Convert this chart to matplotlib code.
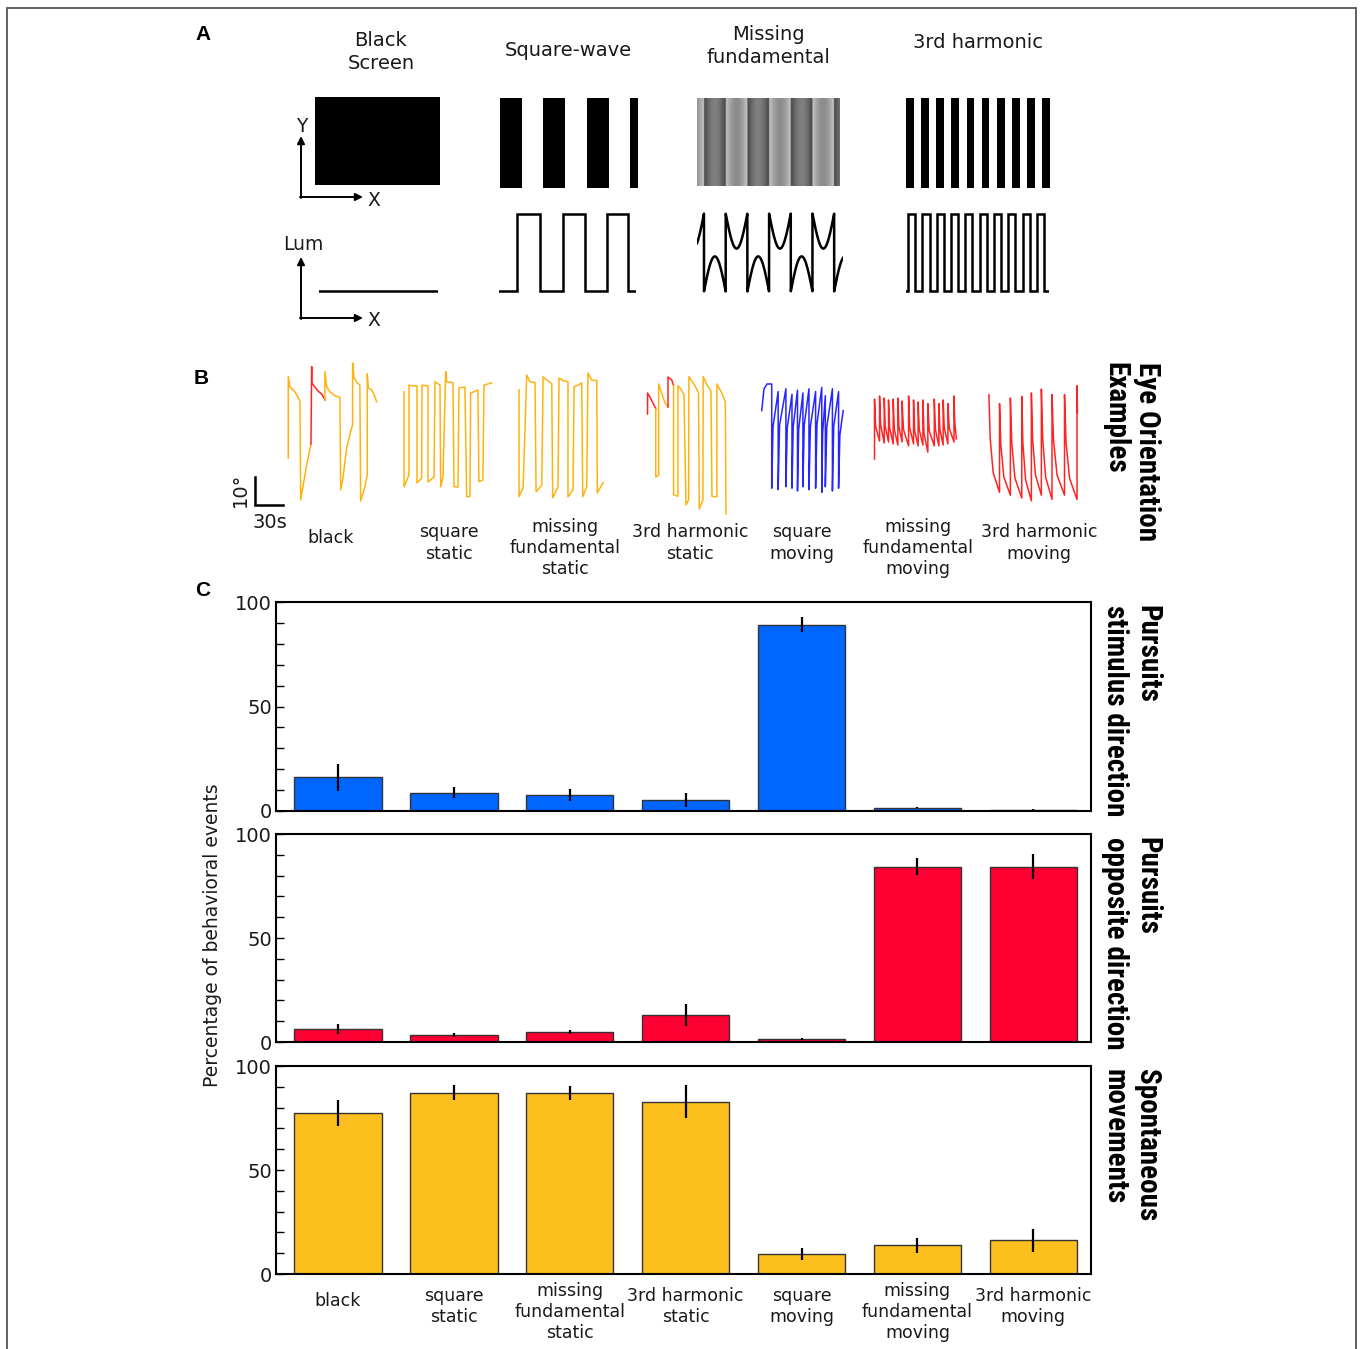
"""Eye-movement figure: stimuli (A), eye orientation examples (B), event percentages (C)."""

import numpy as np
import matplotlib

matplotlib.use("Agg")
import matplotlib.pyplot as plt
from matplotlib import font_manager
from matplotlib.patches import Rectangle
from matplotlib.transforms import blended_transform_factory

W, H = 1360, 1349

# ---------------- data ----------------
CONDITIONS = [
    "black",
    "square\nstatic",
    "missing\nfundamental\nstatic",
    "3rd harmonic\nstatic",
    "square\nmoving",
    "missing\nfundamental\nmoving",
    "3rd harmonic\nmoving",
]

# percentage of behavioral events (mean, error)
PURSUIT_STIM = [16.1, 8.8, 7.5, 5.3, 89.1, 1.6, 0.6]
PURSUIT_STIM_ERR = [6.4, 2.8, 2.8, 3.3, 3.6, 0.3, 0.2]
PURSUIT_OPP = [6.3, 3.4, 4.8, 12.8, 1.6, 84.3, 84.3]
PURSUIT_OPP_ERR = [2.4, 1.0, 1.0, 5.3, 0.5, 4.0, 6.0]
SPONT = [77.3, 87.2, 86.9, 82.9, 9.6, 13.8, 16.2]
SPONT_ERR = [6.2, 3.6, 3.4, 7.8, 2.8, 3.6, 5.6]

# stimulus profiles (panel A)
SQUARE_IMG_LEVELS = [0, 1, 0, 1, 0, 1, 0]          # per half cycle, 0 = black
THIRD_IMG_LEVELS = [0, 1] * 9 + [0]
SQUARE_LUM_WIDTHS = [0.83, 1.05, 1.06, 1.0, 1.01, 0.97, 0.36]
SQUARE_LUM_LEVELS = [0, 1, 0, 1, 0, 1, 0]
THIRD_LUM_WIDTHS = [0.3] + [1.0] * 19 + [0.7]
THIRD_LUM_LEVELS = [0] + [1, 0] * 10
MF_FUND_AMP = 0.9                 # fundamental removed from the square wave
MF_PHASE = (2.13, 23.27)          # radians covered by the luminance plot
MF_IMG_PHASE = (2.13, 22.83)

# eye orientation traces (panel B): (event kind, time s, angle deg)
TRACE_BLACK = [
    ("spont", [0.3, 0.3, 2.1, 5.7, 8.2, 12.8, 13.6, 20.0, 24.6],
     [16.7, 45.8, 42.1, 41.1, 40.0, 37.1, 1.8, 14.3, 21.8]),
    ("opp", [24.6, 25.4, 25.4, 28.9, 32.1, 36.1, 39.6],
     [21.8, 49.4, 43.6, 42.1, 40.7, 39.6, 37.5]),
    ("spont", [39.6, 39.6, 41.4, 44.9, 50.3, 55.6, 56.4, 58.9, 62.8, 67.1, 69.2, 69.2,
               70.6, 74.2, 77.0, 77.8, 82.4, 84.9, 84.9, 86.0, 89.6, 92.0, 94.9],
     [37.5, 47.6, 42.2, 40.4, 39.0, 38.4, 5.4, 9.6, 20.3, 26.2, 28.6, 50.7,
      45.4, 43.6, 42.8, 1.4, 6.5, 10.7, 46.8, 41.8, 41.1, 39.6, 36.9]),
]
TRACE_SQUARE_STATIC = [
    ("spont", [1.1, 1.1, 6.4, 6.4, 10.7, 15.0, 15.0, 20.0, 20.3, 26.8, 26.8, 33.2, 34.3, 39.6,
               40.3, 42.8, 45.7, 46.8, 53.5, 54.6, 58.9, 59.9, 66.3, 68.2, 71.7, 72.4, 74.9,
               80.2, 81.3, 85.6, 86.7, 94.9],
     [40.4, 6.5, 10.7, 42.8, 42.5, 42.5, 7.9, 9.6, 42.8, 42.5, 8.2, 10.0, 44.0, 42.8,
      6.5, 10.0, 47.6, 44.0, 43.7, 6.5, 6.4, 41.8, 42.1, 3.0, 3.0, 40.0, 40.3,
      41.1, 8.3, 8.9, 42.8, 43.6]),
]
TRACE_MISSING_STATIC = [
    ("spont", [1.1, 1.1, 5.4, 9.3, 12.8, 18.2, 19.3, 25.4, 26.8, 30.7, 36.1, 37.1, 42.8, 43.9,
               48.2, 53.5, 53.5, 58.9, 60.0, 64.2, 68.2, 69.3, 73.6, 74.9, 78.9, 84.3, 84.9, 91.0],
     [41.1, 3.0, 6.1, 46.4, 44.0, 43.7, 4.7, 7.1, 45.8, 44.6, 43.4, 2.5, 6.5, 45.3,
      44.4, 44.0, 2.9, 5.4, 42.2, 42.8, 43.6, 3.0, 6.5, 47.1, 44.6, 44.4, 4.3, 8.0]),
]
TRACE_THIRD_STATIC = [
    ("opp", [2.7, 2.7, 5.8, 9.6, 11.5], [32.5, 40.0, 38.2, 35.7, 34.3]),
    ("spont", [11.5, 11.5, 14.6, 14.6, 17.1, 21.0, 24.6],
     [34.3, 10.0, 10.7, 43.2, 40.7, 36.8, 35.0]),
    ("opp", [24.6, 24.6, 28.7, 30.6], [35.0, 45.7, 44.6, 42.6]),
    ("spont", [30.6, 30.6, 35.2, 35.2, 38.2, 41.7, 43.9, 46.7, 47.0, 53.5, 57.3, 58.1, 62.0,
               62.3, 66.9, 70.6, 71.7, 77.0, 77.0, 82.2, 86.0, 86.7],
     [42.6, 3.7, 3.1, 42.6, 41.4, 39.4, 0.0, 1.8, 45.8, 42.6, 40.0, -1.4, 1.8,
      45.8, 42.6, 40.7, 3.1, 2.9, 43.2, 40.0, 36.8, -3.2]),
]
TRACE_SQUARE_MOVING = [
    ("stim", [1.9, 4.3, 7.5, 12.6, 12.6, 14.0, 19.5, 19.5, 21.0, 27.8, 27.8, 29.2, 34.3,
              34.3, 35.6, 40.2, 40.2, 41.5, 46.0, 46.0, 47.4, 52.5, 52.5, 54.0, 59.6,
              59.6, 61.1, 66.2, 66.2, 67.2, 70.0, 70.0, 71.6, 77.6, 77.6, 79.0, 84.2,
              84.2, 85.6, 89.1],
     [33.7, 41.4, 43.2, 43.2, 6.0, 28.0, 40.5, 5.5, 28.5, 41.5, 6.5, 27.5, 39.5,
      6.0, 28.0, 41.0, 5.0, 27.0, 40.0, 6.5, 28.5, 41.5, 5.5, 28.0, 40.5,
      6.0, 29.0, 42.0, 4.5, 26.0, 39.0, 6.5, 28.0, 41.5, 5.0, 28.0, 40.5,
      6.0, 25.0, 33.7]),
]
TRACE_MISSING_MOVING = [
    ("opp", [0.6, 0.6, 1.8, 6.0, 6.0, 7.2, 11.0, 11.0, 12.1, 15.6, 15.6, 16.8, 20.6,
             20.6, 21.8, 25.6, 25.6, 26.7, 30.1, 30.1, 31.6, 37.1, 37.1, 38.3, 42.4,
             42.4, 43.6, 47.3, 47.3, 48.5, 52.4, 52.4, 53.6, 57.7, 57.7, 59.2, 64.6,
             64.6, 65.8, 69.5, 69.5, 70.6, 74.1, 74.1, 75.3, 79.2, 79.2, 80.6, 85.7,
             85.7, 86.5, 88.2],
     [16.4, 37.8, 28.0, 22.8, 38.9, 28.5, 22.1, 38.2, 28.0, 22.5, 37.5, 27.5, 21.8,
      37.8, 27.0, 21.4, 38.2, 28.0, 22.5, 37.1, 27.0, 21.1, 38.9, 27.5, 21.8,
      37.5, 26.5, 21.1, 36.8, 27.0, 21.4, 37.5, 25.5, 18.9, 36.2, 26.5, 21.1,
      37.8, 27.0, 21.1, 36.2, 27.0, 21.4, 37.5, 27.5, 21.8, 36.2, 27.5, 22.5,
      38.9, 30.0, 23.6]),
]
TRACE_THIRD_MOVING = [
    ("opp", [1.0, 2.4, 5.6, 12.4, 12.4, 13.8, 17.0, 24.0, 24.0, 25.5, 28.9, 36.2,
             36.2, 37.4, 40.3, 46.5, 46.5, 47.8, 50.8, 57.2, 57.2, 58.6, 61.8, 68.6,
             68.6, 70.2, 74.0, 82.0, 82.0, 83.6, 87.4, 95.4, 95.4, 95.8],
     [39.4, 23.7, 11.5, 4.5, 36.2, 21.5, 10.0, 3.5, 38.2, 22.1, 9.6, 2.5,
      38.8, 22.0, 9.0, 1.5, 40.0, 23.6, 10.8, 3.5, 41.4, 23.7, 9.9, 2.0,
      39.4, 23.2, 10.7, 3.5, 39.4, 22.6, 9.5, 2.0, 42.6, 33.0]),
]
TRACES = [TRACE_BLACK, TRACE_SQUARE_STATIC, TRACE_MISSING_STATIC, TRACE_THIRD_STATIC,
          TRACE_SQUARE_MOVING, TRACE_MISSING_MOVING, TRACE_THIRD_MOVING]

# ---------------- layout / style ----------------
TRACE_OFFSETS = [51.4, 174.6, 297.8, 433.8, 556.9, 679.0, 801.1]   # s, start of each example
B_LABEL_X = [331, 449, 565, 690, 802, 918, 1039]
KIND_COLORS = {"spont": "#FFB20F", "opp": "#FF2424", "stim": "#2626FF"}
BLUE, RED, YELLOW = "#0066FF", "#FF0033", "#FDBF1E"
TEXT = "#1a1a1a"

_names = {f.name for f in font_manager.fontManager.ttflist}
NARROW = next((n for n in ["Liberation Sans Narrow", "DejaVu Sans Condensed", "Roboto Condensed"]
               if n in _names), None)
SIDE_FONT = dict(family=NARROW, fontsize=21) if NARROW else dict(family="DejaVu Sans", fontsize=15)

fig = plt.figure(figsize=(W / 100, H / 100), dpi=100)
ov = fig.add_axes([0, 0, 1, 1])
ov.set_xlim(0, W)
ov.set_ylim(H, 0)
ov.axis("off")
ov.set_zorder(10)
ov.patch.set_visible(False)


def px_axes(x0, y0, x1, y1):
    ax = fig.add_axes([x0 / W, 1 - y1 / H, (x1 - x0) / W, (y1 - y0) / H])
    ax.patch.set_visible(False)
    return ax


def steps(widths, levels):
    edges = np.concatenate([[0], np.cumsum(widths)])
    xs, ys = [], []
    for i, lv in enumerate(levels):
        xs += [edges[i], edges[i + 1]]
        ys += [lv, lv]
    return xs, ys


def missing_fundamental(x):
    square = np.where(np.mod(x, 2 * np.pi) < np.pi, 1.0, -1.0)
    return square - MF_FUND_AMP * np.sin(x)


# figure frame
fig.add_artist(Rectangle((7 / W, -0.01), (1356 - 7) / W, 1.01 - 8 / H, transform=fig.transFigure,
                         fill=False, edgecolor="#555555", lw=1.3))

# ---------------- panel A ----------------
for lab, (x, y) in zip("ABC", [(203, 35), (201, 378), (203, 591)]):
    ov.text(x, y, lab, ha="center", va="center", fontsize=15, fontweight="bold",
            family="Liberation Sans", color="black")

for txt, (x, y) in [("Black\nScreen", (381, 52)), ("Square-wave", (568, 51)),
                    ("Missing\nfundamental", (768, 46)), ("3rd harmonic", (978, 43))]:
    ov.text(x, y, txt, ha="center", va="center", fontsize=14, linespacing=1.3, color=TEXT)

ax = px_axes(315, 97, 440, 185)
ax.imshow([[0]], cmap="gray", vmin=0, vmax=1, aspect="auto")
ax.axis("off")

ax = px_axes(500, 98, 638, 188)
ax.imshow([SQUARE_IMG_LEVELS], cmap="gray", vmin=0, vmax=1, aspect="auto",
          extent=(0, len(SQUARE_IMG_LEVELS), 0, 1), interpolation="nearest")
ax.set_xlim(0, 6.35)
ax.axis("off")

ax = px_axes(697, 98, 840, 186)
xi = np.linspace(*MF_IMG_PHASE, 700)
ax.imshow([missing_fundamental(xi)], cmap="gray", vmin=-2.1, vmax=1.9, aspect="auto",
          extent=(MF_IMG_PHASE[0], MF_IMG_PHASE[1], 0, 1), interpolation="bilinear")
ax.axis("off")

ax = px_axes(906, 98, 1050, 188)
ax.imshow([THIRD_IMG_LEVELS], cmap="gray", vmin=0, vmax=1, aspect="auto",
          extent=(0, len(THIRD_IMG_LEVELS), 0, 1), interpolation="nearest")
ax.axis("off")

lum_kw = dict(color="black", lw=1.8, solid_joinstyle="miter")
ax = px_axes(319, 212, 438, 293)
ax.plot([0, 1], [0, 0], **lum_kw)
ax.set_xlim(0, 1)
ax.set_ylim(-0.03, 1.0)
ax.axis("off")

ax = px_axes(499, 212, 636, 293)
ax.plot(*steps(SQUARE_LUM_WIDTHS, SQUARE_LUM_LEVELS), **lum_kw)
ax.set_xlim(0, sum(SQUARE_LUM_WIDTHS))
ax.set_ylim(-0.02, 1.02)
ax.axis("off")

ax = px_axes(697, 212, 843, 293)
xl = np.linspace(*MF_PHASE, 3000)
ax.plot(xl, missing_fundamental(xl), color="black", lw=1.8)
ax.set_xlim(*MF_PHASE)
ax.set_ylim(-1.04, 1.04)
ax.axis("off")

ax = px_axes(906, 212, 1049, 293)
ax.plot(*steps(THIRD_LUM_WIDTHS, THIRD_LUM_LEVELS), **lum_kw)
ax.set_xlim(0, sum(THIRD_LUM_WIDTHS))
ax.set_ylim(-0.02, 1.02)
ax.axis("off")

arrow = dict(arrowstyle="-|>", color="black", lw=1.4, mutation_scale=11, shrinkA=0, shrinkB=0)
for yc in (197, 318):
    ov.annotate("", xy=(301, yc - 61), xytext=(301, yc + 1), arrowprops=arrow)
    ov.annotate("", xy=(363, yc), xytext=(300, yc), arrowprops=arrow)
    ov.text(374, yc + 3, "X", ha="center", va="center", fontsize=13.5, color=TEXT)
ov.text(302, 127, "Y", ha="center", va="center", fontsize=13.5, color=TEXT)
ov.text(303, 244, "Lum", ha="center", va="center", fontsize=13.5, color=TEXT)

# ---------------- panel B ----------------
axB = px_axes(240, 355, 1100, 515)
axB.set_xlim(0, 921.1)
axB.set_ylim(-3.57, 53.55)
axB.axis("off")
for off, trace in zip(TRACE_OFFSETS, TRACES):
    for kind, t, d in trace:
        axB.plot(np.asarray(t) + off, d, color=KIND_COLORS[kind], lw=1.1)
axB.plot([16.1, 16.1, 46.1], [10, 0, 0], color="black", lw=1.8, solid_joinstyle="miter")
ov.text(240, 490, "10°", rotation=90, ha="center", va="center", fontsize=14, color=TEXT)
ov.text(270, 522, "30s", ha="center", va="center", fontsize=14, color=TEXT)

for x, lab in zip(B_LABEL_X, CONDITIONS):
    n = lab.count("\n")
    ov.text(x, 538 + 5 * n, lab, ha="center", va="center", fontsize=12.5,
            linespacing=1.25, color=TEXT)

ov.text(1101, 362, "Eye Orientation\nExamples", rotation=270, ha="left", va="top",
        fontweight="bold", linespacing=1.2, color="black", **SIDE_FONT)

# ---------------- panel C ----------------
panels = [
    (602, 811, PURSUIT_STIM, PURSUIT_STIM_ERR, BLUE, "Pursuits\nstimulus direction"),
    (834, 1042, PURSUIT_OPP, PURSUIT_OPP_ERR, RED, "Pursuits\nopposite direction"),
    (1066, 1274, SPONT, SPONT_ERR, YELLOW, "Spontaneous\nmovements"),
]
xs = np.arange(len(CONDITIONS))
for top, bottom, vals, errs, col, side in panels:
    ax = px_axes(276, top, 1091, bottom)
    ax.bar(xs, vals, width=0.754, color=col, edgecolor="#333333", linewidth=1.0,
           yerr=errs, error_kw=dict(ecolor="black", elinewidth=1.6, capsize=0), zorder=2)
    ax.set_xlim(-0.535, 6.498)
    ax.set_ylim(0, 100)
    ax.set_yticks([0, 50, 100])
    ax.set_yticks(range(10, 100, 10), minor=True)
    ax.tick_params(axis="y", which="both", direction="in", length=6, width=1.0,
                   labelsize=14, pad=3, labelcolor=TEXT)
    ax.set_xticks([])
    for sp in ax.spines.values():
        sp.set_linewidth(1.5)
        sp.set_zorder(3)
    ov.text(1101, top + 3, side, rotation=270, ha="left", va="top", fontweight="bold",
            linespacing=1.2, color="black", **SIDE_FONT)

trans = blended_transform_factory(ax.transData, ov.transData)
for i, lab in enumerate(CONDITIONS):
    n = lab.count("\n")
    ov.text(i, 1301 + 5.5 * n, lab, transform=trans, ha="center", va="center",
            fontsize=12.5, linespacing=1.25, color=TEXT)

ov.text(213, 935, "Percentage of behavioral events", rotation=90, ha="center", va="center",
        fontsize=13.5, color=TEXT)

fig.savefig("out.png", dpi=100)
